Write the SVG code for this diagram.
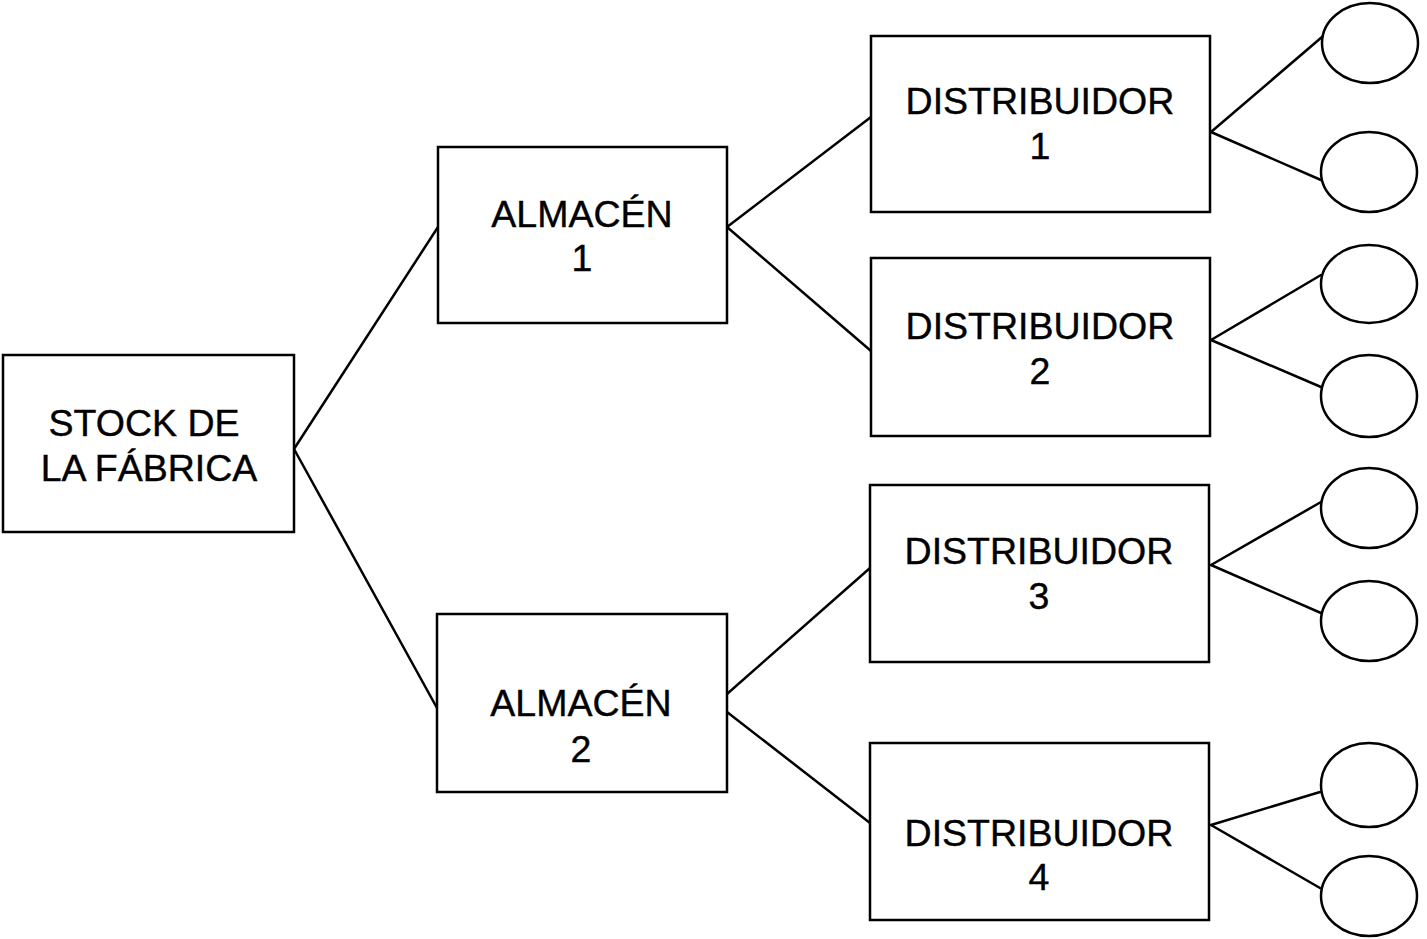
<svg xmlns="http://www.w3.org/2000/svg" width="1427" height="939" viewBox="0 0 1427 939">
<style>
.box{fill:#fff;stroke:#000;stroke-width:2.5}
.leaf{fill:#fff;stroke:#000;stroke-width:2.5}
.lbl{font-family:"Liberation Sans",Arial,sans-serif;font-size:37.5px;fill:#000;stroke:#000;stroke-width:0.4;text-anchor:middle}
#connectors line{stroke:#000;stroke-width:2.5;stroke-linecap:round}
</style>
<rect width="1427" height="939" fill="#fff"/>
<g id="connectors">
<line x1="294" y1="449" x2="438" y2="227"/>
<line x1="294" y1="449" x2="437" y2="708"/>
<line x1="727" y1="227" x2="871" y2="117"/>
<line x1="727" y1="227" x2="871" y2="351"/>
<line x1="727" y1="694" x2="870" y2="568"/>
<line x1="727" y1="712" x2="870" y2="823"/>
<line x1="1211" y1="132" x2="1322" y2="37"/>
<line x1="1211" y1="132" x2="1321" y2="180"/>
<line x1="1211" y1="340" x2="1321" y2="275"/>
<line x1="1211" y1="340" x2="1321" y2="387"/>
<line x1="1211" y1="565" x2="1321" y2="502"/>
<line x1="1211" y1="565" x2="1321" y2="613"/>
<line x1="1211" y1="825" x2="1320" y2="792"/>
<line x1="1211" y1="825" x2="1320" y2="888"/>
</g>
<g id="stock"><rect class="box" x="3" y="355" width="291" height="177"/><text class="lbl" x="144" y="436">STOCK DE</text><text class="lbl" x="149" y="481">LA FÁBRICA</text></g>
<g id="almacen1"><rect class="box" x="438" y="147" width="289" height="176"/><text class="lbl" x="582" y="227">ALMACÉN</text><text class="lbl" x="582" y="271">1</text></g>
<g id="almacen2"><rect class="box" x="437" y="614" width="290" height="178"/><text class="lbl" x="581" y="716">ALMACÉN</text><text class="lbl" x="581" y="762">2</text></g>
<g id="dist1"><rect class="box" x="871" y="36" width="339" height="176"/><text class="lbl" x="1040" y="114">DISTRIBUIDOR</text><text class="lbl" x="1040" y="159">1</text></g>
<g id="dist2"><rect class="box" x="871" y="258" width="339" height="178"/><text class="lbl" x="1040" y="339">DISTRIBUIDOR</text><text class="lbl" x="1040" y="384">2</text></g>
<g id="dist3"><rect class="box" x="870" y="485" width="339" height="177"/><text class="lbl" x="1039" y="564">DISTRIBUIDOR</text><text class="lbl" x="1039" y="609">3</text></g>
<g id="dist4"><rect class="box" x="870" y="743" width="339" height="177"/><text class="lbl" x="1039" y="846">DISTRIBUIDOR</text><text class="lbl" x="1039" y="890">4</text></g>
<g id="leaf1"><ellipse class="leaf" cx="1370" cy="43" rx="48" ry="40"/></g>
<g id="leaf2"><ellipse class="leaf" cx="1369" cy="172" rx="48" ry="40"/></g>
<g id="leaf3"><ellipse class="leaf" cx="1369" cy="284" rx="48" ry="39"/></g>
<g id="leaf4"><ellipse class="leaf" cx="1369" cy="396" rx="48" ry="41"/></g>
<g id="leaf5"><ellipse class="leaf" cx="1369" cy="508" rx="48" ry="40"/></g>
<g id="leaf6"><ellipse class="leaf" cx="1369" cy="621" rx="48" ry="40"/></g>
<g id="leaf7"><ellipse class="leaf" cx="1369" cy="785" rx="48" ry="42"/></g>
<g id="leaf8"><ellipse class="leaf" cx="1369" cy="896" rx="48" ry="40"/></g>
</svg>
